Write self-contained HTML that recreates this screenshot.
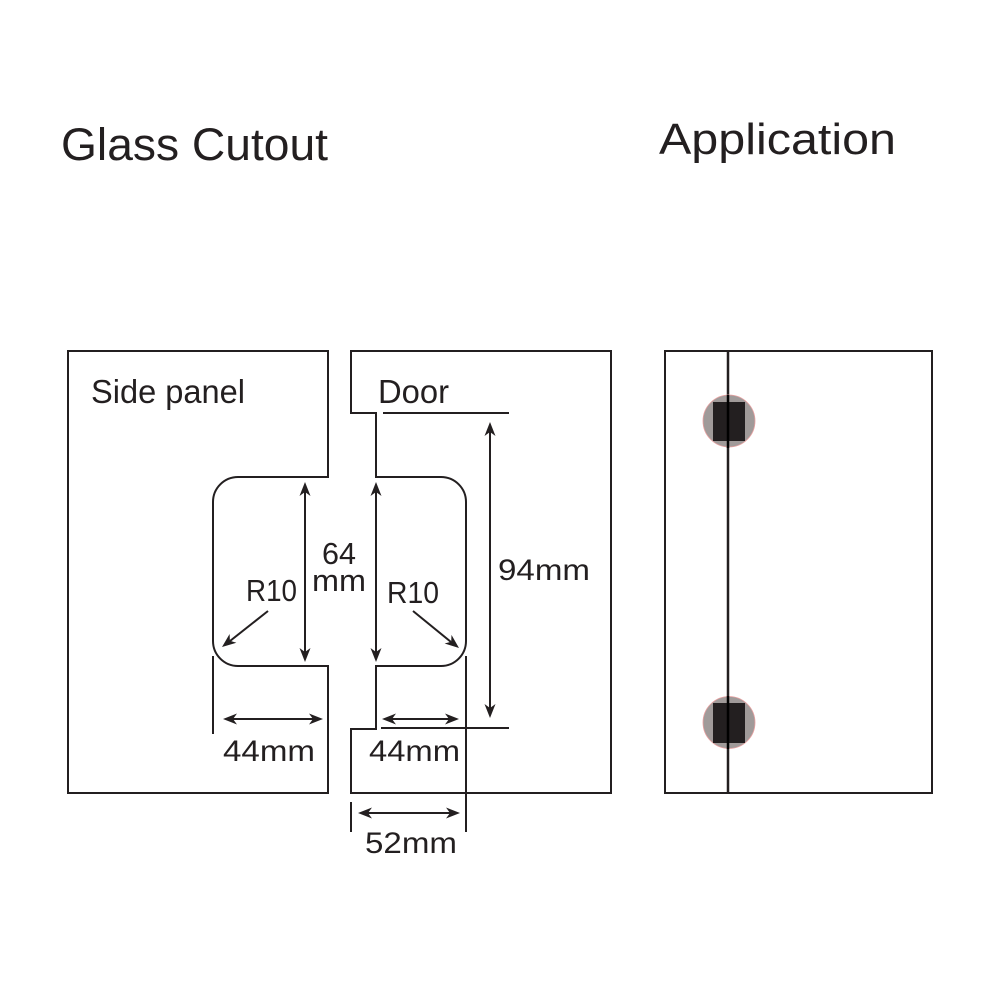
<!DOCTYPE html>
<html>
<head>
<meta charset="utf-8">
<style>
  html,body{margin:0;padding:0;background:#fff;}
  svg{display:block;}
  text{font-family:"Liberation Sans", sans-serif; fill:#231f20;}
</style>
</head>
<body>
<svg width="1000" height="1000" viewBox="0 0 1000 1000" xmlns="http://www.w3.org/2000/svg">
  <rect width="1000" height="1000" fill="#fff"/>

  <!-- Titles -->
  <text x="61" y="160" font-size="45" textLength="267" lengthAdjust="spacingAndGlyphs">Glass Cutout</text>
  <text x="659" y="154" font-size="44" textLength="237" lengthAdjust="spacingAndGlyphs">Application</text>

  <g fill="none" stroke="#231f20" stroke-width="2">
    <!-- Side panel -->
    <path d="M68,351 H328 V477 H238 A25,25 0 0 0 213,502 V641 A25,25 0 0 0 238,666 H328 V793 H68 Z"/>
    <!-- Door -->
    <path d="M351,351 H611 V793 H351 V729 H376 V666 H441 A25,25 0 0 0 466,641 V502 A25,25 0 0 0 441,477 H376 V413 H351 Z"/>

    <!-- extension lines -->
    <line x1="213" y1="656" x2="213" y2="734"/>
    <line x1="466" y1="656" x2="466" y2="832"/>
    <line x1="351" y1="802" x2="351" y2="832"/>
    <line x1="383" y1="413" x2="509" y2="413"/>
    <line x1="381" y1="728" x2="509" y2="728"/>

    <!-- dimension shafts -->
    <line x1="305" y1="490" x2="305" y2="654"/>
    <line x1="376" y1="490" x2="376" y2="654"/>
    <line x1="490" y1="430" x2="490" y2="710"/>
    <line x1="268" y1="611" x2="230" y2="641"/>
    <line x1="413" y1="611" x2="451" y2="642"/>
    <line x1="231" y1="719" x2="315" y2="719"/>
    <line x1="390" y1="719" x2="451" y2="719"/>
    <line x1="366" y1="813" x2="452" y2="813"/>
  </g>

  <!-- arrowheads -->
  <g fill="#231f20" stroke="none">
    <path d="M305,482 L310.5,496 L305,492 L299.5,496 Z"/>
    <path d="M305,662 L310.5,648 L305,652 L299.5,648 Z"/>
    <path d="M376,482 L381.5,496 L376,492 L370.5,496 Z"/>
    <path d="M376,662 L381.5,648 L376,652 L370.5,648 Z"/>
    <path d="M490,422 L495.5,436 L490,432 L484.5,436 Z"/>
    <path d="M490,718 L495.5,704 L490,708 L484.5,704 Z"/>
    <path d="M223,719 L237,713.5 L233,719 L237,724.5 Z"/>
    <path d="M323,719 L309,713.5 L313,719 L309,724.5 Z"/>
    <path d="M382,719 L396,713.5 L392,719 L396,724.5 Z"/>
    <path d="M459,719 L445,713.5 L449,719 L445,724.5 Z"/>
    <path d="M358,813 L372,807.5 L368,813 L372,818.5 Z"/>
    <path d="M460,813 L446,807.5 L450,813 L446,818.5 Z"/>
    <path d="M222,647 L236.4,642.7 L229.9,640.8 L229.6,634.0 Z"/>
    <path d="M459,648 L444.6,643.5 L451.2,641.7 L451.5,634.9 Z"/>
  </g>

  <!-- Labels -->
  <text x="91" y="403" font-size="33" textLength="154" lengthAdjust="spacingAndGlyphs">Side panel</text>
  <text x="378" y="403" font-size="33" textLength="71" lengthAdjust="spacingAndGlyphs">Door</text>
  <text x="322" y="564" font-size="31" textLength="34" lengthAdjust="spacingAndGlyphs">64</text>
  <text x="312" y="591" font-size="31" textLength="54" lengthAdjust="spacingAndGlyphs">mm</text>
  <text x="246" y="601" font-size="31" textLength="51" lengthAdjust="spacingAndGlyphs">R10</text>
  <text x="387" y="603" font-size="31" textLength="52" lengthAdjust="spacingAndGlyphs">R10</text>
  <text x="498" y="580" font-size="30" textLength="92" lengthAdjust="spacingAndGlyphs">94mm</text>
  <text x="223" y="761" font-size="30" textLength="92" lengthAdjust="spacingAndGlyphs">44mm</text>
  <text x="369" y="761" font-size="30" textLength="91" lengthAdjust="spacingAndGlyphs">44mm</text>
  <text x="365" y="853" font-size="30" textLength="92" lengthAdjust="spacingAndGlyphs">52mm</text>

  <!-- Application -->
  <rect x="665" y="351" width="267" height="442" fill="none" stroke="#231f20" stroke-width="2"/>
  <line x1="728" y1="351" x2="728" y2="793" stroke="#231f20" stroke-width="2.5"/>
  <circle cx="729" cy="421" r="26" fill="#a09a99" stroke="#e8a0a0" stroke-width="0.8"/>
  <rect x="713" y="402" width="32" height="39" fill="#231f20"/>
  <circle cx="729" cy="722.5" r="26" fill="#a09a99" stroke="#e8a0a0" stroke-width="0.8"/>
  <rect x="713" y="703" width="32" height="40" fill="#231f20"/>
  <line x1="728" y1="395" x2="728" y2="448" stroke="#000" stroke-width="2.5"/>
  <line x1="728" y1="696" x2="728" y2="749" stroke="#000" stroke-width="2.5"/>
</svg>
</body>
</html>
